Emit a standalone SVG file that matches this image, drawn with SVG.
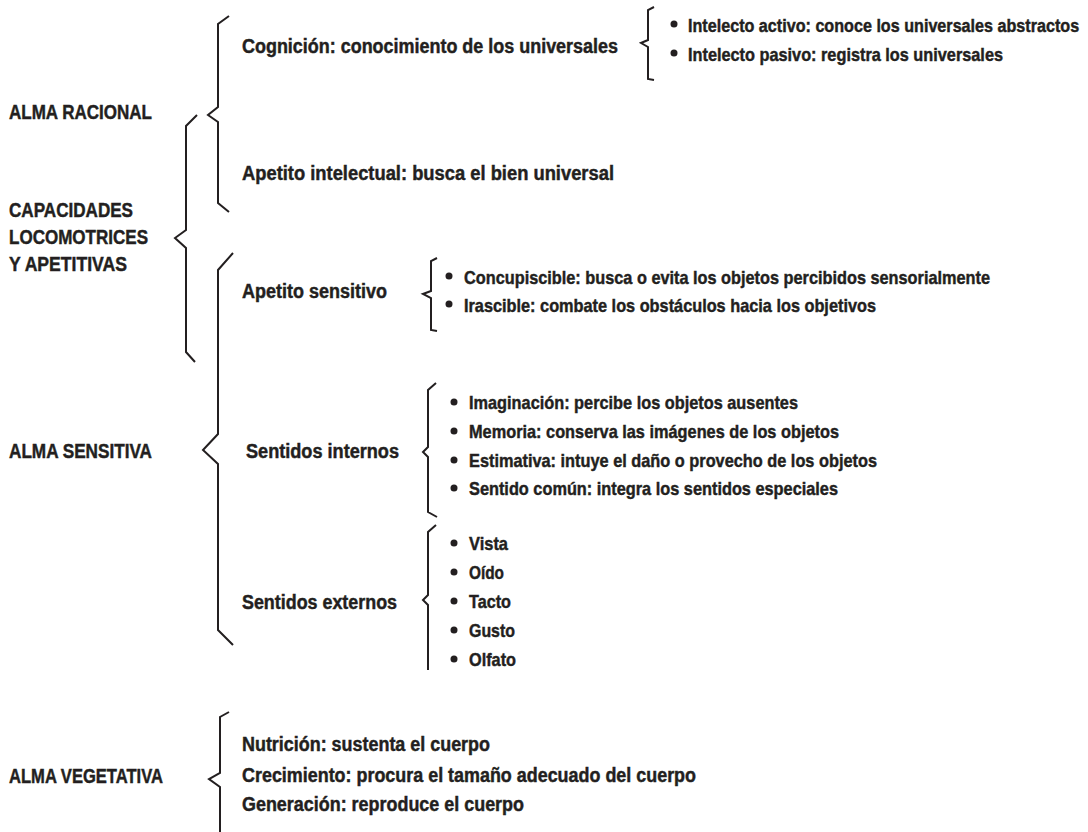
<svg xmlns="http://www.w3.org/2000/svg" width="1088" height="832" viewBox="0 0 1088 832">
<style>
text{font-family:"Liberation Sans Narrow","Liberation Sans",Arial,sans-serif;font-weight:bold;font-size:20px;fill:#231f20;stroke:#231f20;stroke-width:0.45}
text.s{font-size:19px}
.br{fill:none;stroke:#231f20;stroke-width:2;stroke-linejoin:miter}
.dot{fill:#231f20}
</style>
<rect width="1088" height="832" fill="#fff"/>
<g id="connectors">
<path class="br" d="M229,16 L218,24 L218,107 L208,115 L218,122 L218,203 L229,212"/>
<path class="br" d="M197,115 L186,126 L186,230 L175,238 L186,248 L186,352 L195,362"/>
<path class="br" d="M233,253 L218,270 L218,434 L203,450 L218,464 L218,630 L233,645"/>
<path class="br" d="M654,7 L648,10 L648,40 L641,43 L648,47 L648,79 L654,80"/>
<path class="br" d="M437,258 L431,261 L431,291 L423,294 L431,298 L431,330 L437,331"/>
<path class="br" d="M436,383 L428,390 L428,447 L423,452 L428,457 L428,512 L437,517"/>
<path class="br" d="M436,525 L428,532 L428,595 L423,600 L428,605 L428,670"/>
<path class="br" d="M229,712 L220,717 L220,773 L209,779 L220,787 L220,832"/>
</g>
<g id="alma-racional"><text x="9" y="119" textLength="143" lengthAdjust="spacingAndGlyphs">ALMA RACIONAL</text></g>
<g id="capacidades">
<text x="9" y="217" textLength="124" lengthAdjust="spacingAndGlyphs">CAPACIDADES</text>
<text x="9" y="244" textLength="139" lengthAdjust="spacingAndGlyphs">LOCOMOTRICES</text>
<text x="9" y="271" textLength="118" lengthAdjust="spacingAndGlyphs">Y APETITIVAS</text>
</g>
<g id="alma-sensitiva"><text x="9" y="458" textLength="143" lengthAdjust="spacingAndGlyphs">ALMA SENSITIVA</text></g>
<g id="alma-vegetativa"><text x="9" y="783" textLength="154" lengthAdjust="spacingAndGlyphs">ALMA VEGETATIVA</text></g>
<g id="cognicion"><text x="242" y="53" textLength="376" lengthAdjust="spacingAndGlyphs">Cognición: conocimiento de los universales</text></g>
<g id="intelecto">
<circle class="dot" cx="674" cy="24" r="3.5"/>
<text class="s" transform="translate(688 32) scale(0.85 1)" x="0" y="0">Intelecto activo: conoce los universales abstractos</text>
<circle class="dot" cx="674" cy="53" r="3.5"/>
<text class="s" x="688" y="61" textLength="315" lengthAdjust="spacingAndGlyphs">Intelecto pasivo: registra los universales</text>
</g>
<g id="apetito-intelectual"><text x="242" y="180" textLength="372" lengthAdjust="spacingAndGlyphs">Apetito intelectual: busca el bien universal</text></g>
<g id="apetito-sensitivo"><text x="242" y="298" textLength="145" lengthAdjust="spacingAndGlyphs">Apetito sensitivo</text></g>
<g id="apetito-sensitivo-items">
<circle class="dot" cx="449" cy="276" r="3.5"/>
<text class="s" x="464" y="284" textLength="526" lengthAdjust="spacingAndGlyphs">Concupiscible: busca o evita los objetos percibidos sensorialmente</text>
<circle class="dot" cx="449" cy="304" r="3.5"/>
<text class="s" x="464" y="312" textLength="412" lengthAdjust="spacingAndGlyphs">Irascible: combate los obstáculos hacia los objetivos</text>
</g>
<g id="sentidos-internos"><text x="246" y="458" textLength="153" lengthAdjust="spacingAndGlyphs">Sentidos internos</text></g>
<g id="sentidos-internos-items">
<circle class="dot" cx="454" cy="402" r="3.5"/>
<text class="s" x="469" y="409" textLength="329" lengthAdjust="spacingAndGlyphs">Imaginación: percibe los objetos ausentes</text>
<circle class="dot" cx="454" cy="431" r="3.5"/>
<text class="s" x="469" y="438" textLength="370" lengthAdjust="spacingAndGlyphs">Memoria: conserva las imágenes de los objetos</text>
<circle class="dot" cx="454" cy="460" r="3.5"/>
<text class="s" x="469" y="467" textLength="408" lengthAdjust="spacingAndGlyphs">Estimativa: intuye el daño o provecho de los objetos</text>
<circle class="dot" cx="454" cy="488" r="3.5"/>
<text class="s" x="469" y="495" textLength="369" lengthAdjust="spacingAndGlyphs">Sentido común: integra los sentidos especiales</text>
</g>
<g id="sentidos-externos"><text x="242" y="609" textLength="155" lengthAdjust="spacingAndGlyphs">Sentidos externos</text></g>
<g id="sentidos-externos-items">
<circle class="dot" cx="454" cy="543" r="3.5"/>
<text class="s" x="469" y="550" textLength="39" lengthAdjust="spacingAndGlyphs">Vista</text>
<circle class="dot" cx="454" cy="572" r="3.5"/>
<text class="s" x="469" y="579" textLength="35" lengthAdjust="spacingAndGlyphs">Oído</text>
<circle class="dot" cx="454" cy="601" r="3.5"/>
<text class="s" x="469" y="608" textLength="42" lengthAdjust="spacingAndGlyphs">Tacto</text>
<circle class="dot" cx="454" cy="630" r="3.5"/>
<text class="s" x="469" y="637" textLength="46" lengthAdjust="spacingAndGlyphs">Gusto</text>
<circle class="dot" cx="454" cy="659" r="3.5"/>
<text class="s" x="469" y="666" textLength="47" lengthAdjust="spacingAndGlyphs">Olfato</text>
</g>
<g id="vegetativa-items">
<text x="242" y="751" textLength="248" lengthAdjust="spacingAndGlyphs">Nutrición: sustenta el cuerpo</text>
<text x="242" y="782" textLength="454" lengthAdjust="spacingAndGlyphs">Crecimiento: procura el tamaño adecuado del cuerpo</text>
<text x="242" y="811" textLength="282" lengthAdjust="spacingAndGlyphs">Generación: reproduce el cuerpo</text>
</g>
</svg>
